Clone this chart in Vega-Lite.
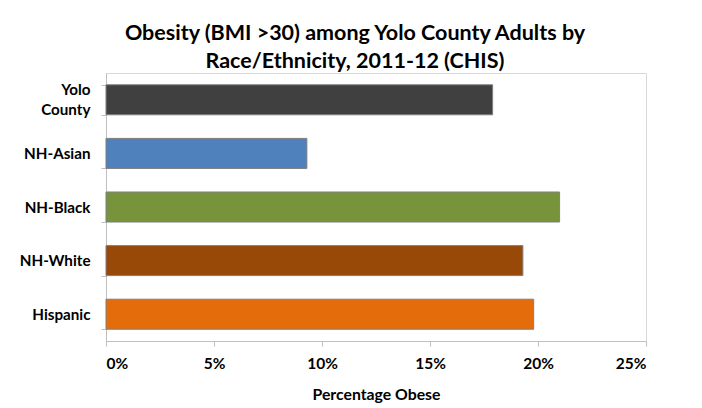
{
  "$schema": "https://vega.github.io/schema/vega-lite/v6.json",
  "autosize": "none",
  "width": 540,
  "height": 268,
  "padding": {"left": 106, "top": 73, "right": 56, "bottom": 67},
  "background": "white",
  "title": {
    "text": ["Obesity (BMI >30) among Yolo County Adults by", "Race/Ethnicity, 2011-12 (CHIS)"],
    "font": "Lato",
    "fontSize": 21.5,
    "fontWeight": "bold",
    "color": "black",
    "anchor": "middle",
    "dx": -21,
    "offset": -6,
    "lineHeight": 28
  },
  "data": {
    "values": [
      {"group": "Yolo County", "pct": 17.9},
      {"group": "NH-Asian", "pct": 9.3},
      {"group": "NH-Black", "pct": 21.0},
      {"group": "NH-White", "pct": 19.3},
      {"group": "Hispanic", "pct": 19.8}
    ]
  },
  "mark": {"type": "bar", "stroke": "#7f7f7f", "strokeWidth": 1},
  "encoding": {
    "y": {
      "field": "group",
      "type": "nominal",
      "sort": ["Yolo County", "NH-Asian", "NH-Black", "NH-White", "Hispanic"],
      "scale": {"paddingInner": 0.44, "paddingOuter": 0.22},
      "axis": {
        "title": null,
        "labelExpr": "datum.label == 'Yolo County' ? ['Yolo', 'County'] : datum.label",
        "labelOffset": {"condition": {"test": "datum.label == 'Yolo County'", "value": -10}, "value": 0},
        "labelFont": "Lato",
        "labelFontSize": 15.2,
        "labelFontWeight": "bold",
        "labelColor": "black",
        "labelLineHeight": 20,
        "labelPadding": 11,
        "tickBand": "extent",
        "tickSize": 5,
        "tickColor": "#bfbfbf",
        "domainColor": "#bfbfbf",
        "grid": false
      }
    },
    "x": {
      "field": "pct",
      "type": "quantitative",
      "scale": {"domain": [0, 25], "nice": false},
      "axis": {
        "title": "Percentage Obese",
        "values": [0, 5, 10, 15, 20, 25],
        "labelExpr": "datum.value + '%'",
        "labelFont": "Lato",
        "labelFontSize": 15.5,
        "labelFontWeight": "bold",
        "labelColor": "black",
        "labelPadding": 10,
        "titleFont": "Lato",
        "titleFontSize": 15.8,
        "titleFontWeight": "bold",
        "titleColor": "black",
        "titlePadding": 16,
        "tickSize": 5,
        "tickColor": "#bfbfbf",
        "domainColor": "#bfbfbf",
        "grid": false
      }
    },
    "color": {
      "field": "group",
      "type": "nominal",
      "scale": {
        "domain": ["Yolo County", "NH-Asian", "NH-Black", "NH-White", "Hispanic"],
        "range": ["#404040", "#4f81bd", "#77933c", "#984807", "#e46c0a"]
      },
      "legend": null
    }
  },
  "config": {
    "view": {"stroke": "#d9d9d9", "strokeWidth": 1}
  }
}
